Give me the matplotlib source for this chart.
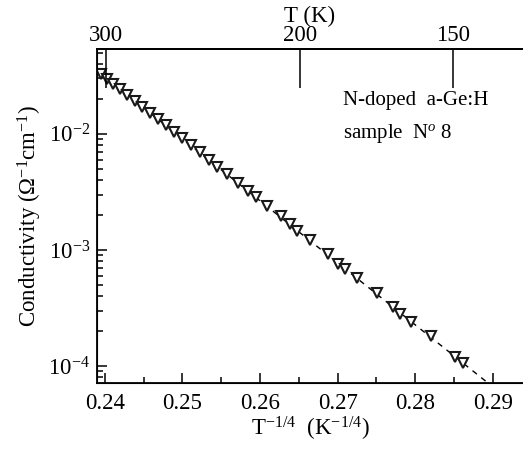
import numpy as np
import matplotlib
matplotlib.use("Agg")
import matplotlib.pyplot as plt
from matplotlib.ticker import LogLocator, MultipleLocator, NullFormatter, FixedLocator

plt.rcParams['font.family'] = ['Liberation Serif', 'DejaVu Serif']
plt.rcParams['mathtext.fontset'] = 'custom'
plt.rcParams['mathtext.rm'] = 'Liberation Serif'
plt.rcParams['mathtext.it'] = 'Liberation Serif:italic'

# T^(-1/4) (K^-1/4) and conductivity (Ohm^-1 cm^-1)
x_vals = [0.23948, 0.24026, 0.24103, 0.24193, 0.24290, 0.24387, 0.24483, 0.24588,
          0.24684, 0.24794, 0.24897, 0.24999, 0.25108, 0.25224, 0.25340, 0.25443,
          0.25572, 0.25714, 0.25842, 0.25945, 0.26088, 0.26268, 0.26384, 0.26474,
          0.26642, 0.26874, 0.27003, 0.27093, 0.27247, 0.27505, 0.27711, 0.27802,
          0.27943, 0.28201, 0.28510, 0.28613]
sigma = [0.0327, 0.0296, 0.0269, 0.0241, 0.0214, 0.0192, 0.01707, 0.01514,
         0.01331, 0.01183, 0.01040, 0.00915, 0.00797, 0.00701, 0.00598, 0.00521,
         0.00454, 0.00380, 0.00324, 0.00288, 0.00241, 0.00196, 0.001656, 0.001442,
         0.001208, 0.000915, 0.000751, 0.000681, 0.000569, 0.000424, 0.000321, 0.000279,
         0.000239, 0.000181, 0.0001195, 0.0001062]

# top axis: temperature labels
top_T = ['300', '200', '150']
top_pos = [0.2401, 0.2651, 0.2849]

x_vals = np.array(x_vals)
sigma = np.array(sigma)

# linear fit of log(sigma) vs T^-1/4
k, c = np.polyfit(x_vals, np.log10(sigma), 1)
x_fit = np.linspace(0.2393, 0.2910, 50)
y_fit = 10 ** (k * x_fit + c)

fs = 16.5
fig = plt.figure(figsize=(5.23, 4.49), dpi=100)
ax = fig.add_axes([97 / 523, 1 - 383 / 449, 1 - 97 / 523, (383 - 49) / 449])

ax.plot(x_fit, y_fit, color='black', linestyle=(0, (4, 4)), linewidth=1.0, zorder=2)
ax.plot(x_vals, sigma, linestyle='none', marker='v', markersize=7,
        markerfacecolor='white', markeredgecolor='#1a1a1a', markeredgewidth=1.5, zorder=3)

ax.set_yscale('log')
ax.set_xlim(0.239, 0.29387)
ax.set_ylim(7.15e-5, 0.0537)

ax.xaxis.set_major_locator(MultipleLocator(0.01))
ax.xaxis.set_minor_locator(MultipleLocator(0.005))
ax.xaxis.set_major_formatter(matplotlib.ticker.FormatStrFormatter('%.2f'))
ax.yaxis.set_major_locator(LogLocator(base=10, numticks=10))
ax.yaxis.set_minor_locator(LogLocator(base=10, subs=np.arange(2, 10), numticks=20))
ax.yaxis.set_minor_formatter(NullFormatter())

ax.tick_params(which='both', direction='in', top=False, right=False, labelsize=fs, width=1.1)
ax.tick_params(which='major', length=7, pad=7)
ax.tick_params(which='minor', length=4)
ax.tick_params(axis='y', pad=5)

for side in ['left', 'bottom', 'top']:
    ax.spines[side].set_linewidth(1.3)
ax.spines['right'].set_visible(False)

ax.set_xlabel(r'T$^{\mathit{-1/4}}$  (K$^{\mathit{-1/4}}$)', fontsize=fs, labelpad=1)
ax.set_ylabel(r'Conductivity ($\Omega^{\mathit{-1}}$cm$^{\mathit{-1}}$)', fontsize=fs, labelpad=3)

ax2 = ax.twiny()
ax2.set_xlim(ax.get_xlim())
ax2.xaxis.set_major_locator(FixedLocator(top_pos))
ax2.set_xticklabels(top_T)
ax2.xaxis.set_minor_locator(FixedLocator([]))
ax2.tick_params(axis='x', direction='in', length=28, width=1.1, labelsize=fs, pad=2)
ax2.spines['right'].set_visible(False)
ax2.spines['top'].set_linewidth(1.3)
ax2.set_xlabel('T (K)', fontsize=fs, labelpad=2)

fig.text(343 / 523, 1 - 100 / 449, 'N-doped  a-Ge:H', fontsize=15, va='center', ha='left')
fig.text(343 / 523, 1 - 133 / 449, r'sample  N$^{\mathit{o}}$ 8', fontsize=15, va='center', ha='left')

fig.savefig('out.png', dpi=100)
